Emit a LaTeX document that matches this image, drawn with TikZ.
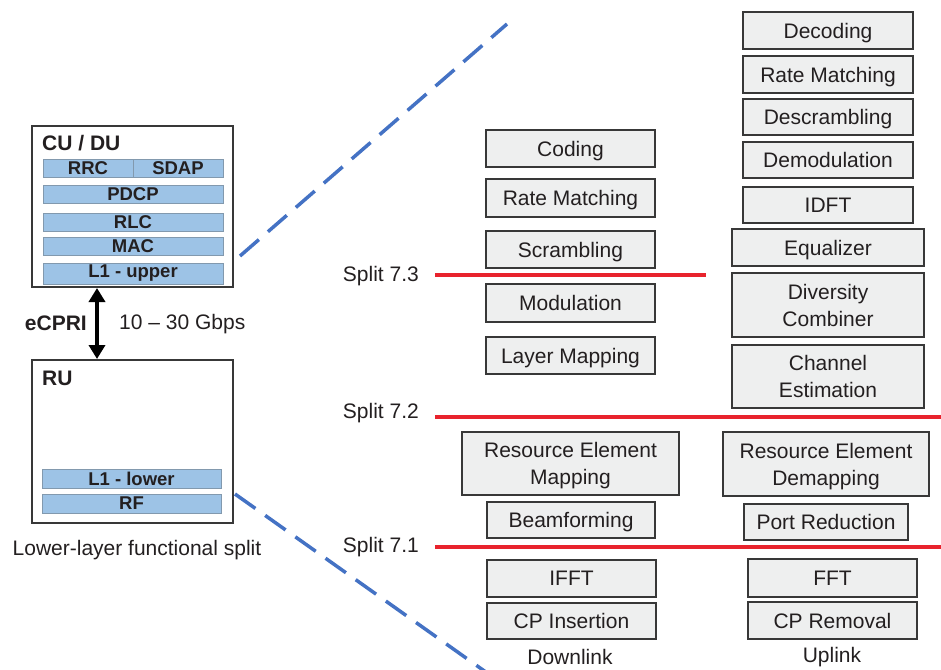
\documentclass[tikz,border=0pt]{standalone}
\usepackage{fontspec}
\setmainfont{Liberation Sans}
\usetikzlibrary{arrows.meta}
\definecolor{inkc}{HTML}{231F20}
\definecolor{boxline}{HTML}{383838}
\definecolor{boxfill}{HTML}{EEEFEF}
\definecolor{barfill}{HTML}{9DC3E6}
\definecolor{barline}{HTML}{8299AE}
\definecolor{splitred}{HTML}{E8232D}
\definecolor{linkblue}{HTML}{4472C4}
\begin{document}
\begin{tikzpicture}[x=1pt,y=-1pt,
  every node/.style={text=inkc},
  procbox/.style={draw=boxline, fill=boxfill, line width=1.8pt, inner sep=0pt,
    font=\fontsize{21}{27}\selectfont, align=center, text depth=0pt},
  unitbox/.style={draw=boxline, fill=white, line width=2pt, inner sep=0pt},
  layerbar/.style={draw=barline, fill=barfill, line width=0.8pt, inner sep=0pt,
    font=\bfseries\fontsize{18.5}{20}\selectfont},
  plaintext/.style={inner sep=0pt, font=\fontsize{21}{25}\selectfont},
  boldtext/.style={inner sep=0pt, font=\bfseries\fontsize{21}{25}\selectfont},
  splitline/.style={draw=splitred, line width=3.2pt},
  zoomline/.style={draw=linkblue, line width=3.5pt, dash pattern=on 25pt off 12pt}]
\useasboundingbox (0,0) rectangle (941,669);

% ---------- CU / DU unit ----------
\node[unitbox, minimum width=201pt, minimum height=161pt] (cudu) at (132.5,206.5) {};
\node[boldtext, anchor=west] (cudutitle) at (42,143) {CU / DU};
\node[layerbar, minimum width=90pt, minimum height=18pt] (rrc) at (88,168) {RRC};
\node[layerbar, minimum width=90pt, minimum height=18pt] (sdap) at (178,168) {SDAP};
\node[layerbar, minimum width=180pt, minimum height=18pt] (pdcp) at (133,194) {PDCP};
\node[layerbar, minimum width=180pt, minimum height=18pt] (rlc) at (133,222) {RLC};
\node[layerbar, minimum width=180pt, minimum height=18pt] (mac) at (133,246) {MAC};
\node[layerbar, minimum width=180pt, minimum height=21pt] (l1up) at (133,273.5) {L1 - upper};

% ---------- RU unit ----------
\node[unitbox, minimum width=201pt, minimum height=163pt] (ru) at (132.5,441.5) {};
\node[boldtext, anchor=west] (rutitle) at (42,378) {RU};
\node[layerbar, minimum width=179pt, minimum height=19pt] (l1low) at (131.5,478.5) {L1 - lower};
\node[layerbar, minimum width=179pt, minimum height=19pt] (rf) at (131.5,503.5) {RF};
\node[plaintext] (caption) at (137,550) {Lower-layer functional split};

% ---------- fronthaul link ----------
\coordinate (linkx) at (97,0);
\draw[line width=4pt, {Triangle[width=16pt,length=14pt]}-{Triangle[width=16pt,length=14pt]}]
  (cudu.south -| linkx) -- (ru.north -| linkx);
\node[boldtext, anchor=east] (ecpri) at (87,323) {eCPRI};
\node[plaintext, anchor=west] (rate) at (119,324) {10 – 30 Gbps};

% ---------- zoom guide lines ----------
\coordinate (zt0) at (240,256);
\coordinate (zt1) at (507,24);
\coordinate (zb0) at (235,494);
\coordinate (zb1) at (490,675);
\draw[zoomline] (zt0) -- (zt1);
\draw[zoomline] (zb0) -- (zb1);

% ---------- downlink chain ----------
\node[procbox, minimum width=169pt, minimum height=37pt] (coding) at (570.5,148.5) {Coding};
\node[procbox, minimum width=169pt, minimum height=38pt] (dlrate) at (570.5,198) {Rate Matching};
\node[procbox, minimum width=169pt, minimum height=37pt] (scram) at (570.5,249.5) {Scrambling};
\node[procbox, minimum width=169pt, minimum height=38pt] (modu) at (570.5,303) {Modulation};
\node[procbox, minimum width=169pt, minimum height=37pt] (laymap) at (570.5,355.5) {Layer Mapping};
\node[procbox, minimum width=217pt, minimum height=63pt] (remap) at (570.5,463.5) {Resource Element\\Mapping};
\node[procbox, minimum width=168pt, minimum height=36pt] (beam) at (571,520) {Beamforming};
\node[procbox, minimum width=169pt, minimum height=37pt] (ifft) at (571.5,578.5) {IFFT};
\node[procbox, minimum width=169pt, minimum height=36pt] (cpins) at (571.5,621) {CP Insertion};
\node[plaintext] (dllabel) at (570,657) {Downlink};

% ---------- uplink chain ----------
\node[procbox, minimum width=170pt, minimum height=37pt] (decod) at (828,30.5) {Decoding};
\node[procbox, minimum width=170pt, minimum height=37pt] (ulrate) at (828,74.5) {Rate Matching};
\node[procbox, minimum width=170pt, minimum height=36pt] (descr) at (828,117) {Descrambling};
\node[procbox, minimum width=170pt, minimum height=36pt] (demod) at (828,160) {Demodulation};
\node[procbox, minimum width=170pt, minimum height=36pt] (idft) at (828,205) {IDFT};
\node[procbox, minimum width=192pt, minimum height=37pt] (equal) at (828,247.5) {Equalizer};
\node[procbox, minimum width=192pt, minimum height=64pt] (divc) at (828,305) {Diversity\\Combiner};
\node[procbox, minimum width=192pt, minimum height=63pt] (chest) at (828,376.5) {Channel\\Estimation};
\node[procbox, minimum width=206pt, minimum height=64pt] (redemap) at (826,464) {Resource Element\\Demapping};
\node[procbox, minimum width=164pt, minimum height=36pt] (portred) at (826,522) {Port Reduction};
\node[procbox, minimum width=169pt, minimum height=38pt] (fft) at (832.5,578) {FFT};
\node[procbox, minimum width=169pt, minimum height=37pt] (cprem) at (832.5,620.5) {CP Removal};
\node[plaintext] (ullabel) at (832,657) {Uplink};

% ---------- split points ----------
\node[plaintext, anchor=east] (s73) at (419,276) {Split 7.3};
\node[plaintext, anchor=east] (s72) at (419,413) {Split 7.2};
\node[plaintext, anchor=east] (s71) at (419,547) {Split 7.1};
\coordinate (s73end) at (706,275);
\coordinate (s72end) at (941,417);
\coordinate (s71end) at (941,547);
\draw[splitline] ([xshift=16pt]s73.east |- s73end) -- (s73end);
\draw[splitline] ([xshift=16pt]s72.east |- s72end) -- (s72end);
\draw[splitline] ([xshift=16pt]s71.east |- s71end) -- (s71end);
\end{tikzpicture}
\end{document}
